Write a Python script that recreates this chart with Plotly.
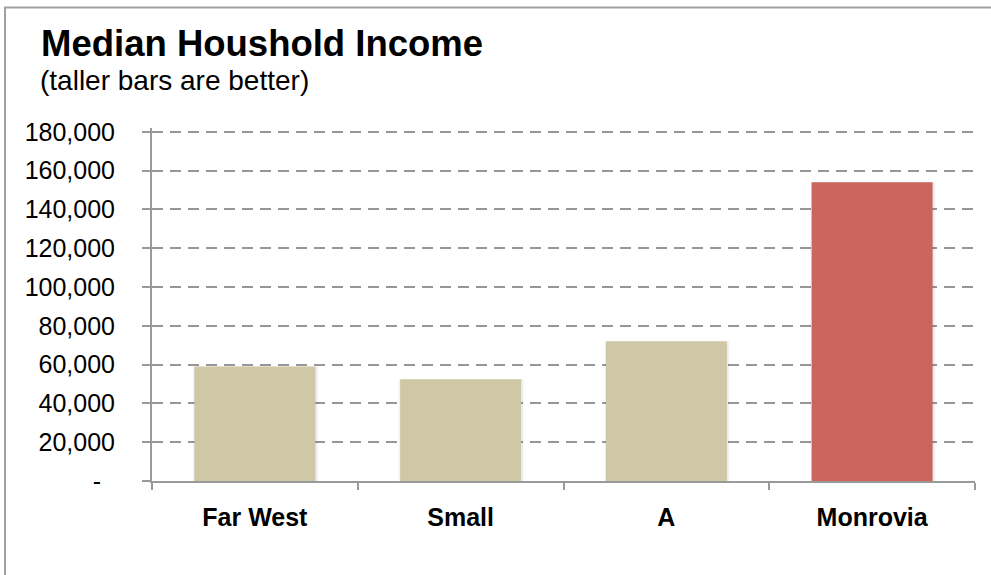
import plotly.graph_objects as go

# Median household income by area
categories = ["Far West", "Small", "A", "Monrovia"]
income = [59000, 52500, 72000, 154000]
bar_colors = ["#CEC8A6", "#CEC8A6", "#CEC8A6", "#CC655E"]

y_ticks = [0, 20000, 40000, 60000, 80000, 100000, 120000, 140000, 160000, 180000]
y_tick_text = ["-\u00a0\u00a0"] + [f"{v:,}" for v in y_ticks[1:]]
y_max = 182000

title_text = "Median Houshold Income"
subtitle_text = "(taller bars are better)"

# plot area geometry (pixels)
W, H = 991, 575
L, R, T, B = 152, 16, 128, 94
pw, ph = W - L - R, H - T - B


def px_x(x):
    return (x - L) / pw


def px_y(y):
    return (H - B - y) / ph


FONT = "Liberation Sans, Arial, Helvetica, sans-serif"

fig = go.Figure()

# soft glow around each bar (two faint layers)
for w, a in [(0.612, 0.025), (0.600, 0.05)]:
    fig.add_trace(go.Bar(
        x=categories, y=income, width=w, offset=-w / 2 + 0.003,
        marker=dict(color=f"rgba(0,0,0,{a})", line=dict(width=0)),
        hoverinfo="skip", showlegend=False,
    ))
fig.add_trace(go.Bar(
    x=categories, y=income, width=0.588, offset=-0.294,
    marker=dict(color=bar_colors, line=dict(width=0)),
    showlegend=False,
))

fig.update_layout(
    width=W, height=H,
    margin=dict(l=L, r=R, t=T, b=B),
    paper_bgcolor="white", plot_bgcolor="white",
    barmode="overlay",
    font=dict(family=FONT, color="black"),
    xaxis=dict(
        type="category",
        showline=True, linecolor="#9a9a9a", linewidth=2,
        ticks="outside", ticklen=7, tickwidth=2, tickcolor="#9a9a9a",
        tickson="boundaries",
        showgrid=False,
        tickfont=dict(family=FONT, size=25, color="black", weight="bold"),
        ticklabelstandoff=13,
        range=[-0.5, 3.5],
    ),
    yaxis=dict(
        range=[0, y_max],
        tickvals=y_ticks, ticktext=y_tick_text,
        showline=True, linecolor="#9a9a9a", linewidth=2,
        ticks="outside", ticklen=8, tickwidth=2, tickcolor="#9a9a9a",
        showgrid=True, gridcolor="#969696", gridwidth=2, griddash="11px,7px",
        zeroline=False,
        tickfont=dict(family=FONT, size=25, color="black"),
        ticklabelstandoff=22,
    ),
    shapes=[
        # outer chart frame
        dict(type="rect", xref="paper", yref="paper",
             x0=px_x(5), x1=px_x(1010), y0=px_y(600), y1=px_y(7.5),
             line=dict(color="#a0a0a0", width=2), fillcolor="rgba(0,0,0,0)",
             layer="below"),
    ],
    annotations=[
        dict(text=f"<b>{title_text}</b>", xref="paper", yref="paper",
             x=px_x(39), y=px_y(43), xanchor="left", yanchor="middle",
             showarrow=False, font=dict(family=FONT, size=36.5, color="black")),
        dict(text=subtitle_text, xref="paper", yref="paper",
             x=px_x(38), y=px_y(80), xanchor="left", yanchor="middle",
             showarrow=False, font=dict(family=FONT, size=28, color="black")),
    ],
)

fig.write_html("out.html")
